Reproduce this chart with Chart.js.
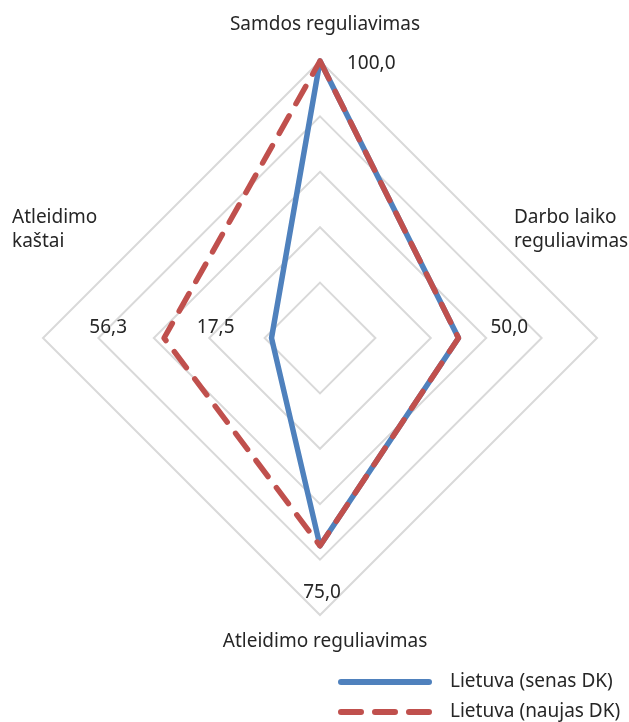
<!DOCTYPE html>
<html>
<head>
<meta charset="utf-8">
<script src="https://cdn.jsdelivr.net/npm/chart.js@4.4.1/dist/chart.umd.min.js"></script>
<style>
  html, body { margin: 0; padding: 0; background: #ffffff; }
  canvas { display: block; }
</style>
</head>
<body>
<canvas id="c" width="629" height="722"></canvas>
<script>
// ---- Data ----
const categories = [
  ["Samdos reguliavimas"],
  ["Darbo laiko", "reguliavimas"],
  ["Atleidimo reguliavimas"],
  ["Atleidimo", "kaštai"]
];
const seriesNames = ["Lietuva (senas DK)", "Lietuva (naujas DK)"];
const oldValues = [100.0, 50.0, 75.0, 17.5];
const newValues = [100.0, 50.0, 75.0, 56.3];
const scaleMin = 0;
const scaleMax = 100;
const scaleStep = 20;

const FONT = '19px "Noto Sans", "Open Sans", sans-serif';
const TEXT = '#262626';

const fmt = v => v.toFixed(1).replace('.', ',');

const labelPlugin = {
  id: 'labels',
  afterDraw(chart) {
    const ctx = chart.ctx;
    const r = chart.scales.r;
    ctx.save();
    ctx.font = FONT;
    ctx.fillStyle = TEXT;

    // axis labels
    const axisPos = [
      {dx: 5, dy: -31, align: 'center'},
      {dx: -83, dy: -115, align: 'left'},
      {dx: 5, dy: 32, align: 'center'},
      {dx: -31, dy: -115, align: 'left'}
    ];
    ctx.textBaseline = 'alphabetic';
    categories.forEach((lines, i) => {
      const p = r.getPointPosition(i, r.drawingArea);
      const o = axisPos[i];
      ctx.textAlign = o.align;
      lines.forEach((t, k) => ctx.fillText(t, p.x + o.dx, p.y + o.dy + k * 24));
    });

    // data labels
    const dataPos = [
      {dx: 27, dy: 3, align: 'left'},
      {dx: 32, dy: -10, align: 'left'},
      {dx: 2, dy: 47, align: 'center'},
      {dx: -37, dy: -10, align: 'right'}
    ];
    ctx.textBaseline = 'middle';
    const drawn = [];
    [newValues, oldValues].forEach(vals => {
      vals.forEach((v, i) => {
        if (drawn.some(d => d.i === i && d.v === v)) return;
        drawn.push({i, v});
        const p = r.getPointPositionForValue(i, v);
        const o = dataPos[i];
        ctx.textAlign = o.align;
        ctx.fillText(fmt(v), p.x + o.dx, p.y + o.dy);
      });
    });

    // legend
    const legendY = [682, 712];
    chart.data.datasets.forEach((ds, k) => {
      const y = legendY[k];
      ctx.beginPath();
      ctx.strokeStyle = ds.borderColor;
      ctx.lineWidth = 6;
      ctx.lineCap = 'round';
      ctx.setLineDash(ds.borderDash || []);
      ctx.moveTo(341, y);
      ctx.lineTo(429, y);
      ctx.stroke();
      ctx.setLineDash([]);
      ctx.textAlign = 'left';
      ctx.fillStyle = TEXT;
      ctx.fillText(ds.label, 450, y);
    });
    ctx.restore();
  }
};

new Chart(document.getElementById('c'), {
  type: 'radar',
  data: {
    labels: categories.map(c => c.join(' ')),
    datasets: [
      {
        label: seriesNames[0],
        data: oldValues,
        borderColor: '#4f81bd',
        backgroundColor: 'rgba(0,0,0,0)',
        borderWidth: 5.5,
        borderCapStyle: 'round',
        borderJoinStyle: 'round',
        fill: false,
        pointRadius: 0,
        order: 2
      },
      {
        label: seriesNames[1],
        data: newValues,
        borderColor: '#c0504d',
        backgroundColor: 'rgba(0,0,0,0)',
        borderWidth: 5.5,
        borderDash: [20, 14],
        borderCapStyle: 'round',
        borderJoinStyle: 'round',
        fill: false,
        pointRadius: 0,
        order: 1
      }
    ]
  },
  options: {
    responsive: false,
    animation: false,
    devicePixelRatio: 1,
    layout: { padding: { left: 43, right: 32, top: 61, bottom: 107 } },
    elements: { line: { tension: 0 } },
    plugins: { legend: { display: false }, tooltip: { enabled: false } },
    scales: {
      r: {
        min: scaleMin,
        max: scaleMax,
        ticks: { display: false, stepSize: scaleStep },
        grid: { color: '#d9d9d9', lineWidth: 2 },
        angleLines: { display: false },
        pointLabels: { display: false }
      }
    }
  },
  plugins: [labelPlugin]
});
</script>
</body>
</html>
